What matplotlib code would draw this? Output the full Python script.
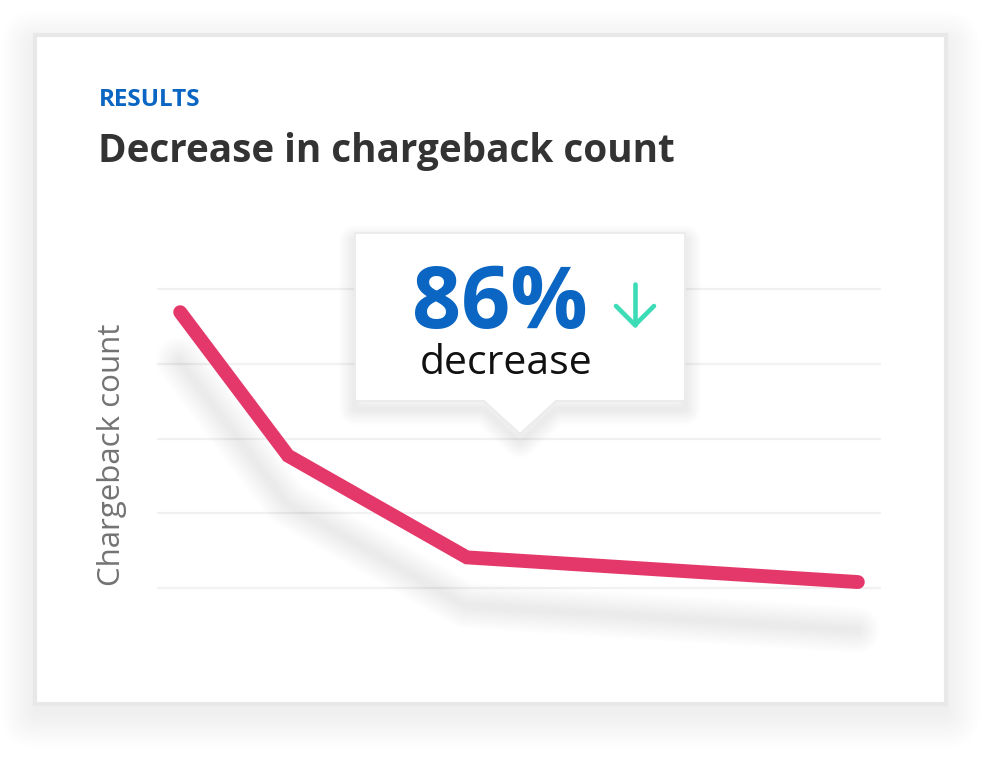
import matplotlib
matplotlib.use("Agg")
import matplotlib.pyplot as plt
import matplotlib.transforms as mtransforms
from matplotlib.patches import Rectangle, Polygon, FancyBboxPatch
import numpy as np

# ---- data ----
x_vals = [0.32, 1.81, 4.28, 9.68]
y_vals = [3.69, 1.77, 0.41, 0.08]
grid_levels = [0, 1, 2, 3, 4]
eyebrow = "RESULTS"
title = "Decrease in chargeback count"
ylabel = "Chargeback count"
big_value = "86%"
big_caption = "decrease"

W, H = 1000, 759
fig = plt.figure(figsize=(W / 100, H / 100), dpi=100)
fig.patch.set_facecolor("white")

FONT = ["Open Sans", "DejaVu Sans"]

# ---- background / card (pixel coordinates) ----
bg = fig.add_axes([0, 0, 1, 1], zorder=0)
bg.set_xlim(0, W)
bg.set_ylim(H, 0)
bg.axis("off")

cx0, cy0, cx1, cy1 = 35, 35, 946, 704
for i in range(16):
    pad = 1 + i * 2.2
    r = FancyBboxPatch((cx0 - pad, cy0 - pad + 10), (cx1 - cx0) + 2 * pad, (cy1 - cy0) + 2 * pad,
                       boxstyle="round,pad=0,rounding_size=%f" % (pad + 2),
                       fc="#000000", ec="none", alpha=0.0035, zorder=1)
    bg.add_patch(r)
bg.add_patch(Rectangle((cx0, cy0), cx1 - cx0, cy1 - cy0, fc="white", ec="#e8e8e8", lw=3, zorder=2))

# ---- chart axes ----
ax = fig.add_axes([157 / W, 1 - 650 / H, 724 / W, 380 / H], zorder=1)
ax.patch.set_alpha(0)
ax.set_xlim(0, 10)
ax.set_ylim(-0.829, 4.254)
ax.set_yticks(grid_levels)
ax.set_xticks([])
ax.tick_params(left=False, labelleft=False)
ax.grid(axis="y", color="#f1f1f1", lw=1.6)
for s in ax.spines.values():
    s.set_visible(False)

shadow_tr = mtransforms.offset_copy(ax.transData, fig=fig, x=-0.01, y=-0.48, units="inches")
for lw in np.linspace(34, 4, 20):
    ax.plot(x_vals, y_vals, color="#000000", lw=lw, alpha=0.0055, solid_capstyle="round",
            solid_joinstyle="round", transform=shadow_tr, clip_on=False)
ax.plot(x_vals, y_vals, color="#e5386a", lw=10, solid_capstyle="round",
        solid_joinstyle="miter", clip_on=False, zorder=5)

# ---- foreground (callout, texts) ----
fg = fig.add_axes([0, 0, 1, 1], zorder=2)
fg.set_xlim(0, W)
fg.set_ylim(H, 0)
fg.axis("off")
fg.patch.set_alpha(0)

bx0, by0, bx1, by1 = 355, 233, 685, 401
tip_x, tip_y, half = 520, 434, 36
callout = [(bx0, by0), (bx1, by0), (bx1, by1), (tip_x + half, by1), (tip_x, tip_y),
           (tip_x - half, by1), (bx0, by1)]
for i in range(10):
    d = 2 + i * 1.6
    sh = [(px, py + 8) for px, py in callout]
    fg.add_patch(Polygon(sh, closed=True, fc="none", ec="#000000", lw=d * 1.4,
                         alpha=0.007, joinstyle="round", zorder=1))
fg.add_patch(Polygon(callout, closed=True, fc="white", ec="#ececec", lw=1.5, zorder=2))

fg.text(500, 328, big_value, family=FONT, fontweight="bold", fontsize=62,
        color="#0a66c2", ha="center", va="baseline", zorder=3)
fg.text(506, 374, big_caption, family=FONT, fontsize=29.5, color="#111111",
        ha="center", va="baseline", zorder=3)
green = "#3cdcb6"
fg.plot([635, 635], [284, 325], color=green, lw=3.3, solid_capstyle="round", zorder=3)
fg.plot([616, 635, 654], [306, 325, 306], color=green, lw=3.3, solid_capstyle="round",
        solid_joinstyle="round", zorder=3)

fg.text(99, 106, eyebrow, family=FONT, fontweight="bold", fontsize=17.5, color="#0a66c2",
        ha="left", va="baseline")
fg.text(98, 162, title, family=FONT, fontweight="bold", fontsize=27.8, color="#333333",
        ha="left", va="baseline")
fg.text(112, 455, ylabel, family=FONT, fontsize=22.5, color="#737373", rotation=90,
        ha="center", va="center")

fig.savefig("out.png", dpi=100, facecolor="white")
